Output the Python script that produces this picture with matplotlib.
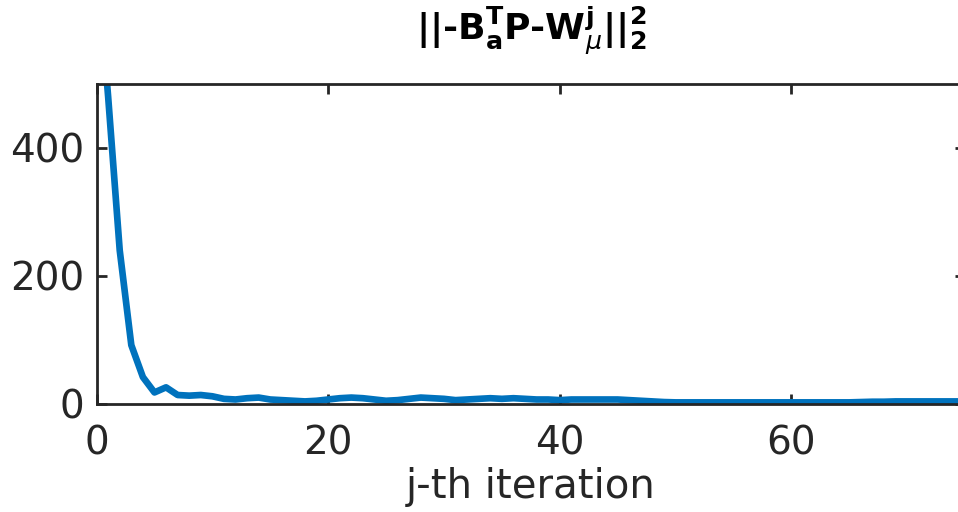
"""
Convergence of ||-B_a^T P - W_mu^j||_2^2 over iterations (MATLAB-style figure).
"""
import numpy as np
import matplotlib
matplotlib.use("Agg")
import matplotlib.pyplot as plt

# ── Data ──────────────────────────────────────────────────────────────────────
iterations = np.arange(0, 76)
residual = np.array([
    700, 480, 240, 92, 42, 18, 26, 14, 13, 14,
    12, 8, 7, 9, 10, 7, 6, 5, 4, 5,
    7, 9, 10, 9, 7, 5, 6, 8, 10, 9,
    8, 6, 7, 8, 9, 8, 9, 8, 7, 7,
    6, 7, 7, 7, 7, 7, 6, 5, 4, 3,
    2.5, 2.5, 2.5, 2.5, 2.5, 2.5, 2.5, 2.5, 2.5, 2.5,
    2.5, 2.5, 2.5, 2.5, 2.5, 2.5, 3, 3.5, 3.5, 4,
    4, 4, 4, 4, 4, 4,
])
x_ticks = [0, 20, 40, 60]
y_ticks = [0, 200, 400]

TITLE = (r"$\mathbf{||‐B}_{\mathbf{a}}^{\mathbf{T}}\mathbf{P‐W}_{\mu}^{\mathbf{j}}"
         r"\mathbf{||}_{\mathbf{2}}^{\mathbf{2}}$")

plt.rcParams["font.family"] = ["DejaVu Sans"]
plt.rcParams["mathtext.fontset"] = "dejavusans"

AX_COLOR = "#262626"
LINE_COLOR = "#0072BD"

fig = plt.figure(figsize=(9.58, 5.12), dpi=100)
ax = fig.add_axes([0.1008, 0.211, 0.9066, 0.625])

ax.plot(iterations, residual, color=LINE_COLOR, linewidth=4.8,
        solid_joinstyle="round")

ax.set_xlim(0, 75)
ax.set_ylim(0, 500)
ax.set_xticks(x_ticks)
ax.set_yticks(y_ticks)

for side in ax.spines.values():
    side.set_color(AX_COLOR)
    side.set_linewidth(2.0)
ax.tick_params(direction="in", length=7, width=2.0, color=AX_COLOR,
               labelsize=28, labelcolor=AX_COLOR, top=True, right=True)
ax.tick_params(axis="y", pad=9)
ax.tick_params(axis="x", pad=15)

ax.set_xlabel("j-th iteration", fontsize=29, color=AX_COLOR, labelpad=3)
ax.set_title(TITLE, fontsize=26, color="black", pad=32)

fig.savefig("out.png", dpi=100, facecolor="white")
plt.close(fig)
